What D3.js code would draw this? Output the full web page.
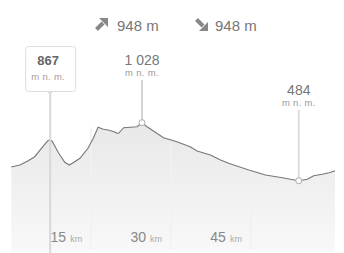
<!DOCTYPE html>
<html>
<head>
<meta charset="utf-8">
<script src="https://cdn.jsdelivr.net/npm/d3@7/dist/d3.min.js"></script>
<style>
  body { margin: 0; background: #fff; }
  svg { display: block; font-family: "Liberation Sans", Arial, sans-serif; }
</style>
</head>
<body>
<div id="chart"></div>
<script>
// profile distance (km) and elevation (m n. m.)
const dist = [0, 1.6, 3.1, 4.4, 5.65, 6.8, 7.3, 7.7, 8.8, 10.05, 10.9, 11.6, 12.9, 14.4, 15.4, 16.3, 17.3, 18.2, 19.3, 19.85, 20.15, 21.1, 23.6, 24.55, 25.5, 28.6, 31.1, 33.6, 34.9, 37.4, 39.3, 40.8, 44.6, 47.75, 50.9, 54.0, 55.6, 56.8, 58.4, 59.7, 60.8];
const elev = [612, 631, 669, 709, 788, 856, 867, 852, 750, 657, 631, 653, 694, 788, 882, 985, 966, 960, 944, 929, 929, 981, 990, 1028, 990, 887, 850, 803, 763, 725, 678, 647, 584, 537, 512, 484, 497, 531, 544, 559, 578];
const ticks = [15, 30, 45];
const ascent = 948, descent = 948;
const hoverKm = 7.3, hoverElev = 867;
const maxKm = 24.55, maxElev = 1028;
const minKm = 54.0, minElev = 484;

const width = 344, height = 253;
const bottom = 250;

const svg = d3.select("#chart").append("svg")
  .attr("width", width).attr("height", height);

const x = d3.scaleLinear().domain([0, 60.8]).range([11.3, 335]);
const y = d3.scaleLinear().domain([-166, 1028]).range([bottom, 122.7]);

const grad = svg.append("defs").append("linearGradient")
  .attr("id", "fill").attr("x1", 0).attr("y1", 0).attr("x2", 0).attr("y2", 1);
grad.append("stop").attr("offset", "0%").attr("stop-color", "#e8e8e8");
grad.append("stop").attr("offset", "100%").attr("stop-color", "#f8f8f8");

const pts = dist.map((d, i) => [d, elev[i]]);

svg.append("path")
  .datum(pts)
  .attr("fill", "url(#fill)")
  .attr("d", d3.area().x(d => x(d[0])).y0(bottom).y1(d => y(d[1])));

// vertical grid
svg.selectAll(".grid").data(ticks).enter().append("line")
  .attr("x1", d => x(d)).attr("x2", d => x(d))
  .attr("y1", d => y(d3.max(pts.filter(p => Math.abs(p[0] - d) < 1.5), p => p[1])) )
  .attr("y2", bottom)
  .attr("stroke", "#f1f1f1").attr("stroke-width", 1.5);

svg.append("rect").attr("x", 11).attr("y", bottom).attr("width", 324).attr("height", 3)
  .attr("fill", "#fbfbfb");

svg.append("path")
  .datum(pts)
  .attr("fill", "none").attr("stroke", "#777").attr("stroke-width", 1.1)
  .attr("d", d3.line().x(d => x(d[0])).y(d => y(d[1])));

// tick labels
const tl = svg.selectAll(".tick").data(ticks).enter().append("text")
  .attr("x", d => x(d) - 9).attr("y", 241.5)
  .attr("text-anchor", "end").attr("fill", "#888");
tl.append("tspan").attr("font-size", 14).text(d => d);
tl.append("tspan").attr("font-size", 9).attr("dx", 4).attr("fill", "#aaa").text("km");

// hover tooltip
const hx = x(hoverKm);
svg.append("line").attr("x1", hx).attr("x2", hx).attr("y1", 92).attr("y2", height)
  .attr("stroke", "#d8d8d8").attr("stroke-width", 2);
svg.append("rect").attr("x", hx - 24.5).attr("y", 46.5).attr("width", 50).attr("height", 45)
  .attr("rx", 3).attr("fill", "#fff").attr("stroke", "#ddd");
svg.append("path").attr("d", `M${hx - 3},91.5L${hx + 3},91.5L${hx},95Z`).attr("fill", "#ddd");
svg.append("text").attr("x", hx - 2).attr("y", 65).attr("text-anchor", "middle")
  .attr("font-size", 13).attr("font-weight", "bold").attr("fill", "#666").text(hoverElev);
svg.append("text").attr("x", hx - 2).attr("y", 80).attr("text-anchor", "middle")
  .attr("font-size", 9.5).attr("letter-spacing", 0.3).attr("fill", "#a99").text("m n. m.");

// max / min markers
function marker(km, e, top, lineColor, lw, label) {
  const mx = x(km), my = y(e);
  svg.append("line").attr("x1", mx).attr("x2", mx).attr("y1", top + 15).attr("y2", my)
    .attr("stroke", lineColor).attr("stroke-width", lw);
  svg.append("circle").attr("cx", mx).attr("cy", my).attr("r", 3)
    .attr("fill", "#fff").attr("stroke", "#aaa");
  svg.append("text").attr("x", mx).attr("y", top).attr("text-anchor", "middle")
    .attr("font-size", 14).attr("fill", "#777").text(label);
  svg.append("text").attr("x", mx).attr("y", top + 11).attr("text-anchor", "middle")
    .attr("font-size", 9.5).attr("letter-spacing", 0.3).attr("fill", "#999").text("m n. m.");
}
marker(maxKm, maxElev, 65, "#aaa", 1, "1 028");
marker(minKm, minElev, 95, "#ddd", 2, minElev);

// ascent / descent header
function arrowIcon(tx, ty, flip) {
  const g = svg.append("g")
    .attr("transform", `translate(${tx},${ty})` + (flip ? " scale(1,-1)" : ""));
  g.append("line").attr("x1", 1.5).attr("y1", 11.5).attr("x2", 8).attr("y2", 5)
    .attr("stroke", "#888").attr("stroke-width", 4);
  g.append("path").attr("d", "M4,0L13,0L13,9Z").attr("fill", "#888");
}
arrowIcon(95, 18, false);
arrowIcon(195, 31, true);
svg.append("text").attr("x", 117).attr("y", 31).attr("font-size", 15).attr("fill", "#777").text(ascent + " m");
svg.append("text").attr("x", 215).attr("y", 31).attr("font-size", 15).attr("fill", "#777").text(descent + " m");
</script>
</body>
</html>
